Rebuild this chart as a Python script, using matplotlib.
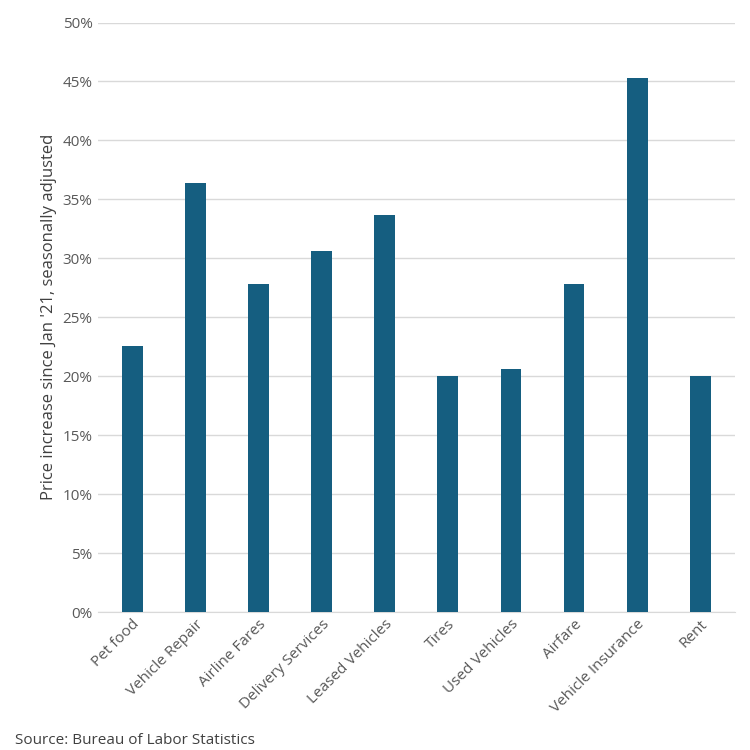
import matplotlib.pyplot as plt
from matplotlib.ticker import PercentFormatter

categories = ["Pet food", "Vehicle Repair", "Airline Fares", "Delivery Services",
              "Leased Vehicles", "Tires", "Used Vehicles", "Airfare",
              "Vehicle Insurance", "Rent"]
increase = [22.6, 36.4, 27.8, 30.6, 33.7, 20.0, 20.6, 27.8, 45.3, 20.0]

plt.rcParams["font.family"] = ["Open Sans", "DejaVu Sans"]

fig = plt.figure(figsize=(7.5, 7.5), dpi=100)
ax = fig.add_axes([0.13, 0.184, 0.85, 0.786])
ax.bar(range(len(categories)), increase, width=0.33, color="#155E80", zorder=3)

ax.set_ylim(0, 50)
ax.set_xlim(-0.55, len(categories) - 0.45)
ax.set_yticks(range(0, 51, 5))
ax.yaxis.set_major_formatter(PercentFormatter(decimals=0))
ax.grid(axis="y", color="#D9D9D9", linewidth=1, zorder=0)
for s in ["top", "right", "left"]:
    ax.spines[s].set_visible(False)
ax.spines["bottom"].set_color("#D9D9D9")
ax.tick_params(axis="both", length=0, colors="#595959", labelsize=11)
ax.set_xticks(range(len(categories)))
ax.set_xticklabels(categories, rotation=45, ha="right", rotation_mode="anchor")
ax.set_ylabel("Price increase since Jan '21, seasonally adjusted",
              fontsize=12, color="#404040")

fig.text(0.02, 0.008, "Source: Bureau of Labor Statistics", fontsize=11, color="#404040")
fig.savefig("out.png")
